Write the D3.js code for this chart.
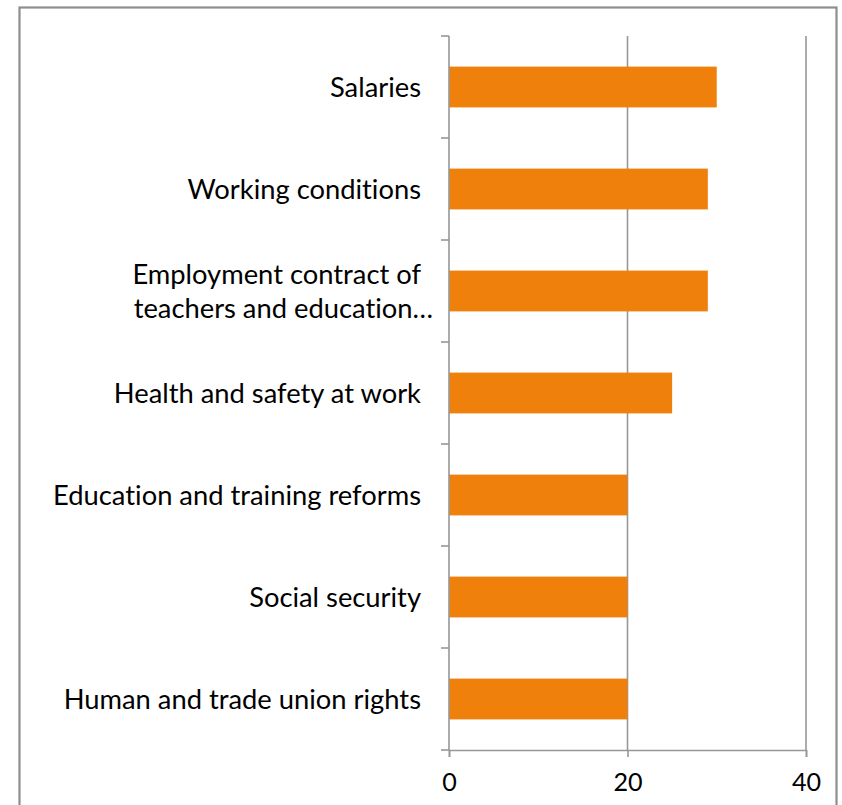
<!DOCTYPE html>
<html>
<head>
<meta charset="utf-8">
<script src="https://cdn.jsdelivr.net/npm/d3@7"></script>
<style>
  html, body { margin: 0; padding: 0; background: #fff; }
  svg { display: block; }
  text { font-family: Lato, "Open Sans", sans-serif; fill: #000; font-variant-ligatures: none; font-feature-settings: "liga" 0; }
</style>
</head>
<body>
<svg id="chart" width="842" height="805"></svg>
<script>
// Issues raised, share of respondents (%)
const categories = [
  "Salaries",
  "Working conditions",
  "Employment contract of teachers and education…",
  "Health and safety at work",
  "Education and training reforms",
  "Social security",
  "Human and trade union rights"
];
const values = [30, 29, 29, 25, 20, 20, 20];
const labelLines = [
  ["Salaries"],
  ["Working conditions"],
  ["Employment contract of", "teachers and education…"],
  ["Health and safety at work"],
  ["Education and training reforms"],
  ["Social security"],
  ["Human and trade union rights"]
];
const xTicks = [0, 20, 40];

const svg = d3.select("#chart");
const gridColor = "#979797";
const barColor = "#ef800c";

// outer frame
svg.append("rect")
  .attr("x", 19.5).attr("y", 7.5)
  .attr("width", 817).attr("height", 810)
  .attr("fill", "none").attr("stroke", "#8e8e8e").attr("stroke-width", 2.2);

const x = d3.scaleLinear().domain([0, 40]).range([449, 806]);
const y = d3.scaleBand().domain(categories).range([36, 750])
  .paddingInner(0.6).paddingOuter(0.3);

// font size fitted so the widest single-line label spans its slot
const probe = svg.append("text").attr("font-size", 100).text("Education and training reforms");
const probeW = probe.node().getComputedTextLength();
probe.remove();
const fontSize = Math.min(30, 100 * 368 / probeW);

// vertical gridlines
svg.append("g").selectAll("line")
  .data(xTicks.filter(d => d > 0))
  .join("line")
  .attr("x1", d => x(d)).attr("x2", d => x(d))
  .attr("y1", 36).attr("y2", 750)
  .attr("stroke", gridColor).attr("stroke-width", 1.6);

// bars
svg.append("g").selectAll("rect")
  .data(categories)
  .join("rect")
  .attr("x", x(0))
  .attr("y", d => y(d))
  .attr("width", (d, i) => x(values[i]) - x(0))
  .attr("height", y.bandwidth())
  .attr("fill", barColor);

// x axis
const xAxis = svg.append("g")
  .attr("transform", "translate(0,750)")
  .call(d3.axisBottom(x).tickValues(xTicks).tickSize(7).tickPadding(16));
xAxis.select(".domain").attr("stroke", gridColor).attr("stroke-width", 1.6);
xAxis.selectAll(".tick line").attr("stroke", gridColor).attr("stroke-width", 1.6);
xAxis.selectAll(".tick text")
  .attr("font-size", fontSize * 0.92)
  .attr("font-family", "Lato, 'Open Sans', sans-serif")
  .attr("fill", "#000");

// y axis: line with ticks at band boundaries
const step = y.step();
const y0 = y(categories[0]) - step * y.paddingOuter();
const bounds = d3.range(categories.length + 1).map(i => y0 + i * step);
svg.append("line")
  .attr("x1", x(0)).attr("x2", x(0))
  .attr("y1", 36).attr("y2", 750)
  .attr("stroke", gridColor).attr("stroke-width", 1.6);
svg.append("g").selectAll("line")
  .data(bounds)
  .join("line")
  .attr("x1", x(0) - 8).attr("x2", x(0))
  .attr("y1", d => d).attr("y2", d => d)
  .attr("stroke", gridColor).attr("stroke-width", 1.6);

// category labels
const lab = svg.append("g").selectAll("text")
  .data(categories)
  .join("text")
  .attr("font-size", fontSize)
  .attr("text-anchor", "end")
  .attr("dominant-baseline", "central");
lab.each(function (d, i) {
  const lines = labelLines[i];
  const cy = y(d) + y.bandwidth() / 2;
  const t = d3.select(this);
  lines.forEach((ln, j) => {
    const off = (j - (lines.length - 1) / 2) * 34;
    t.append("tspan")
      .attr("x", lines.length > 1 && j === 1 ? 433 : 421)
      .attr("y", cy + off - 1)
      .text(ln);
  });
});
</script>
</body>
</html>
